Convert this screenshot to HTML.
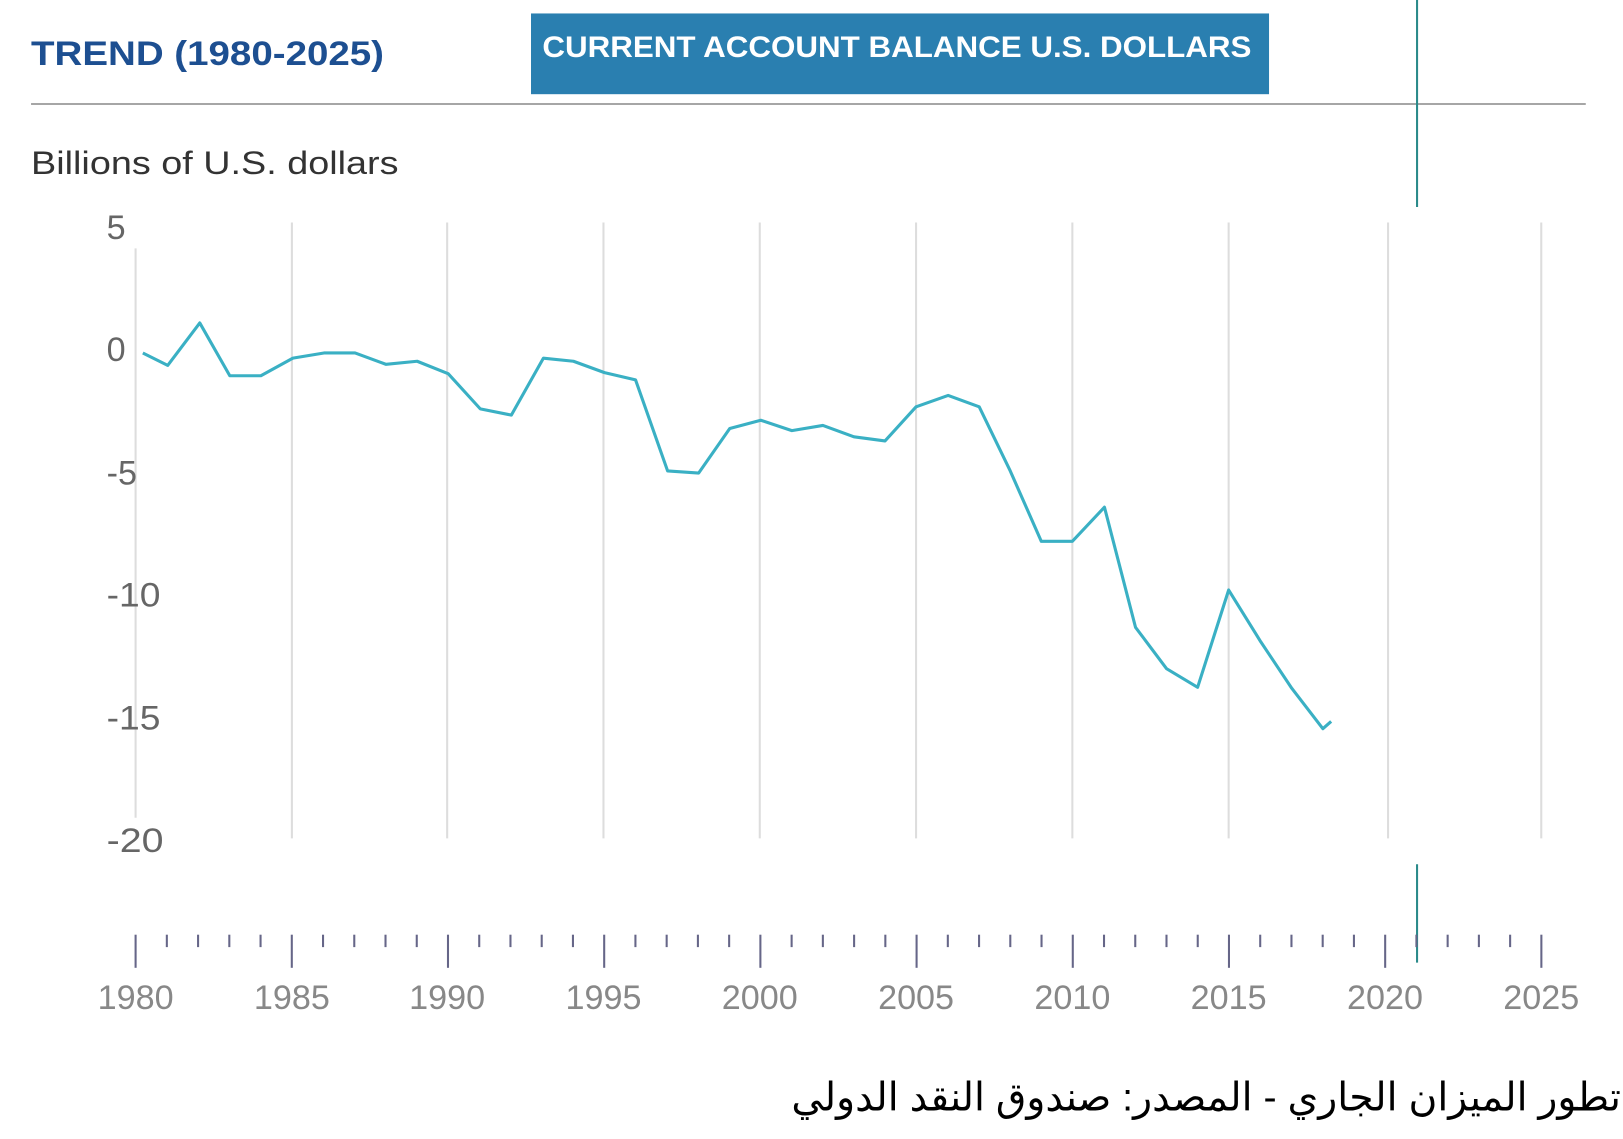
<!DOCTYPE html>
<html><head><meta charset="utf-8"><style>
html,body{margin:0;padding:0;background:#fff;width:1623px;height:1139px;overflow:hidden}
#wrap{position:absolute;left:0;top:0;width:1568px;height:1100px;transform:scale(1.0351);transform-origin:0 0}
#ar{position:absolute;right:2px;top:1038px;font-family:"Liberation Sans","DejaVu Sans",sans-serif;font-size:38px;color:#000;direction:rtl;white-space:nowrap}
</style></head><body>
<div id="wrap">
<svg width="1568" height="1100" xmlns="http://www.w3.org/2000/svg" style="position:absolute;left:0;top:0">
<text x="30" y="63" font-family="Liberation Sans, sans-serif" font-size="33" font-weight="bold" fill="#1d4f91" textLength="341" lengthAdjust="spacingAndGlyphs">TREND (1980-2025)</text>
<rect x="513" y="13" width="713" height="78" fill="#2a7fb0"/>
<text x="524" y="55" font-family="Liberation Sans, sans-serif" font-size="29" font-weight="bold" fill="#fff" textLength="685" lengthAdjust="spacingAndGlyphs">CURRENT ACCOUNT BALANCE U.S. DOLLARS</text>
<line x1="30" y1="100.5" x2="1532" y2="100.5" stroke="#888" stroke-width="1.5"/>
<text x="30" y="168" font-family="Liberation Sans, sans-serif" font-size="31" fill="#333" textLength="355" lengthAdjust="spacingAndGlyphs">Billions of U.S. dollars</text>
<g stroke="#ddd" stroke-width="2">
<line x1="131" y1="240" x2="131" y2="790"/>
<line x1="282" y1="215" x2="282" y2="810"/><line x1="432" y1="215" x2="432" y2="810"/>
<line x1="583" y1="215" x2="583" y2="810"/><line x1="734" y1="215" x2="734" y2="810"/>
<line x1="885" y1="215" x2="885" y2="810"/><line x1="1036" y1="215" x2="1036" y2="810"/>
<line x1="1187" y1="215" x2="1187" y2="810"/><line x1="1341" y1="215" x2="1341" y2="810"/>
<line x1="1489" y1="215" x2="1489" y2="810"/>
</g>
<g font-family="Liberation Sans, sans-serif" font-size="33" fill="#666">
<text x="103" y="231">5</text><text x="103" y="349">0</text><text x="103" y="468">-5</text>
<text x="103" y="586" textLength="52" lengthAdjust="spacingAndGlyphs">-10</text><text x="103" y="705" textLength="52" lengthAdjust="spacingAndGlyphs">-15</text><text x="103" y="823" textLength="55" lengthAdjust="spacingAndGlyphs">-20</text>
</g>
<line x1="1369" y1="0" x2="1369" y2="200" stroke="#2a8a8a" stroke-width="2"/>
<line x1="1369" y1="835" x2="1369" y2="930" stroke="#2a8a8a" stroke-width="2"/>
<polyline fill="none" stroke="#3ab0c4" stroke-width="3" stroke-linejoin="round" points="138,341 162,353 193,312 222,363 252,363 283,346 313,341 343,341 373,352 403,349 433,361 464,395 494,401 525,346 554,349 584,360 614,367 645,455 675,457 705,414 735,406 765,416 795,411 825,422 855,426 885,393 916,382 946,393 976,455 1006,523 1036,523 1067,490 1097,606 1127,646 1157,664 1187,570 1218,620 1248,665 1278,704 1286,697"/>
<g stroke="#666688" stroke-width="2" id="ticks"></g>
<g font-family="Liberation Sans, sans-serif" font-size="33" fill="#888">
<text x="131" y="975" text-anchor="middle">1980</text><text x="282" y="975" text-anchor="middle">1985</text>
<text x="432" y="975" text-anchor="middle">1990</text><text x="583" y="975" text-anchor="middle">1995</text>
<text x="734" y="975" text-anchor="middle">2000</text><text x="885" y="975" text-anchor="middle">2005</text>
<text x="1036" y="975" text-anchor="middle">2010</text><text x="1187" y="975" text-anchor="middle">2015</text>
<text x="1338" y="975" text-anchor="middle">2020</text><text x="1489" y="975" text-anchor="middle">2025</text>
</g>
</svg>
<div id="ar">تطور الميزان الجاري - المصدر: صندوق النقد الدولي</div>
</div>
<script>
var g=document.getElementById('ticks'),s='';
for(var i=0;i<=45;i++){var x=131+i*30.18;var maj=i%5==0;
s+='<line x1="'+x+'" x2="'+x+'" y1="903" y2="'+(maj?935:915)+'"/>';}
g.innerHTML=s;
</script>
</body></html>
